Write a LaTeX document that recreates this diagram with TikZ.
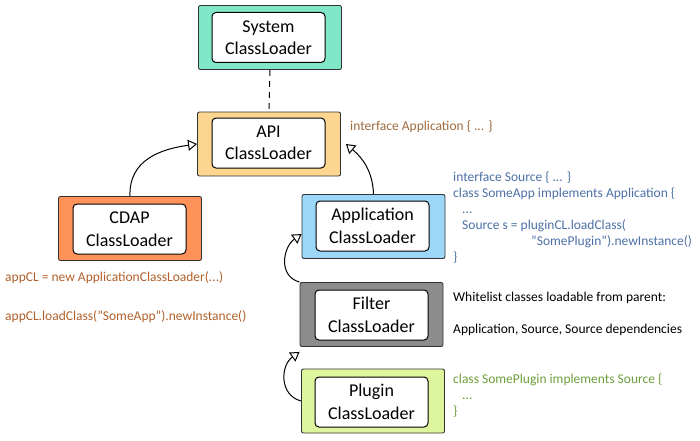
\documentclass[tikz,border=0pt]{standalone}
\usepackage{fontspec}
\setmainfont{Carlito}
\usetikzlibrary{arrows.meta}
\definecolor{cSys}{HTML}{80E8C8}
\definecolor{cApi}{HTML}{FCD68E}
\definecolor{cCdap}{HTML}{FF9258}
\definecolor{cApp}{HTML}{9CD6F8}
\definecolor{cFil}{HTML}{8C8C8C}
\definecolor{cPlu}{HTML}{DDF59C}
\definecolor{tBrown}{HTML}{A06A3C}
\definecolor{tOrange}{HTML}{B0602A}
\definecolor{tBlue}{HTML}{4C70A6}
\definecolor{tGreen}{HTML}{6C9E3A}
\tikzset{
  outerbox/.style={draw=black!80, line width=0.9pt, rounded corners=2pt, minimum width=143pt, minimum height=64pt, inner sep=0pt},
  innerbox/.style={draw=black, fill=white, line width=1pt, rounded corners=4pt, minimum width=113pt, minimum height=50pt, align=center, font=\fontsize{18}{22.5}\selectfont, inner sep=0pt},
  inherit/.style={line width=1pt, -{Triangle[open, fill=white, length=9pt, width=11pt]}},
  note/.style={anchor=west, inner sep=0pt, align=left, font=\fontsize{13.5}{16}\selectfont},
}
\begin{document}
\begin{tikzpicture}[x=1pt,y=1pt]
\useasboundingbox (0,0) rectangle (700,440);
% boxes
\node[outerbox, fill=cSys] (sys) at (270,402.5) {};
\node[innerbox] (sysin) at (268.5,402.5) {System\\ClassLoader};
\node[outerbox, fill=cApi] (api) at (269,296) {};
\node[innerbox] (apiin) at (268.5,297) {API\\ClassLoader};
\node[outerbox, fill=cCdap] (cdap) at (130,211.5) {};
\node[innerbox] (cdapin) at (129.5,211) {CDAP\\ClassLoader};
\node[outerbox, fill=cApp] (app) at (373.5,213.5) {};
\node[innerbox] (appin) at (372.5,214) {Application\\ClassLoader};
\node[outerbox, fill=cFil] (fil) at (371.5,125.5) {};
\node[innerbox] (filin) at (371.5,125) {Filter\\ClassLoader};
\node[outerbox, fill=cPlu] (plu) at (373,39) {};
\node[innerbox] (pluin) at (371.5,38) {Plugin\\ClassLoader};
% connectors
\draw[line width=1pt, dash pattern=on 6pt off 5pt] (sys.south) -- (api.north);
\draw[inherit] (cdap.north) to[out=92, in=188, looseness=1.1] (api.west);
\draw[inherit] (app.north) to[out=92, in=-40] ([xshift=5pt]api.east);
\draw[inherit] (fil.north west) to[out=165, in=215, looseness=1.2] (app.186);
\draw[inherit] (plu.west) to[out=165, in=215, looseness=1.2] ([yshift=-5pt]fil.south west);
% notes
\node[note, text=tBrown] (n1) at (350,313) {interface Application \{ ... \}};
\node[note, text=tBlue, anchor=north west] (n2) at (453,268) {interface Source \{ ... \}\\
class SomeApp implements Application \{\\
\hspace*{9pt}...\\
\hspace*{9pt}Source s = pluginCL.loadClass(\\
\hspace*{78pt}"SomePlugin").newInstance()\\
\}};
\node[note] (n3) at (453,142) {Whitelist classes loadable from parent:};
\node[note] (n4) at (453,110) {Application, Source, Source dependencies};
\node[note, text=tGreen, anchor=north west] (n5) at (453,66) {class SomePlugin implements Source \{\\
\hspace*{9pt}...\\
\}};
\node[note, text=tOrange] (n6) at (5,162) {appCL = new ApplicationClassLoader(...)};
\node[note, text=tOrange] (n7) at (5,123) {appCL.loadClass("SomeApp").newInstance()};
\end{tikzpicture}
\end{document}
